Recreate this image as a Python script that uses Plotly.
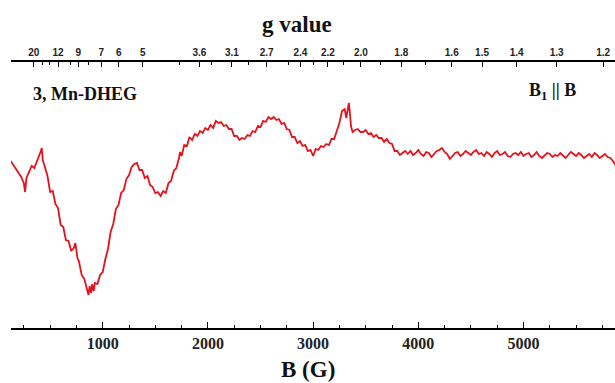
import plotly.graph_objects as go

# ---- data ----
field_G = [125, 150, 175, 200, 225, 250, 262, 275, 300, 325, 350, 375, 400, 412, 420, 430, 450, 475,
           500, 525, 550, 575, 600, 625, 650, 675, 700, 725, 740, 760, 775, 800, 825, 850, 865, 875,
           890, 900, 915, 925, 950, 975, 1000, 1025, 1050, 1075, 1100, 1125, 1150, 1175, 1200, 1225,
           1250, 1275, 1300, 1325, 1350, 1375, 1400, 1425, 1450, 1475, 1500, 1525, 1550, 1575, 1600,
           1625, 1650, 1675, 1700, 1725, 1735, 1750, 1775, 1800, 1825, 1850, 1875, 1900, 1925, 1950,
           1975, 2000, 2025, 2050, 2075, 2100, 2125, 2150, 2175, 2200, 2225, 2250, 2275, 2300, 2325,
           2350, 2375, 2400, 2425, 2450, 2475, 2500, 2525, 2550, 2575, 2600, 2625, 2650, 2675, 2700,
           2725, 2750, 2775, 2800, 2825, 2850, 2875, 2900, 2925, 2950, 2975, 3000, 3025, 3050, 3075,
           3100, 3125, 3150, 3175, 3200, 3225, 3250, 3275, 3300, 3315, 3330, 3340, 3350, 3360, 3375,
           3400, 3425, 3450, 3475, 3500, 3525, 3550, 3575, 3600, 3625, 3650, 3675, 3700, 3725, 3750,
           3775, 3800, 3825, 3850, 3875, 3900, 3925, 3950, 3975, 4000, 4025, 4050, 4075, 4100, 4125,
           4150, 4175, 4200, 4225, 4250, 4275, 4300, 4325, 4350, 4375, 4400, 4425, 4450, 4475, 4500,
           4525, 4550, 4575, 4600, 4625, 4650, 4675, 4700, 4725, 4750, 4775, 4800, 4825, 4850, 4875,
           4900, 4925, 4950, 4975, 5000, 5025, 5050, 5075, 5100, 5125, 5150, 5175, 5200, 5225, 5250,
           5275, 5300, 5325, 5350, 5375, 5400, 5425, 5450, 5475, 5500, 5525, 5550, 5575, 5600, 5625,
           5650, 5675, 5700, 5725, 5750, 5775, 5800, 5825, 5850, 5875]

signal_au = [167, 163, 160, 155, 151, 145, 136, 150, 157, 162, 160, 167, 172, 177, 180, 168, 161, 152,
             136, 137, 124, 120, 103, 101, 88, 87, 77, 80, 85, 70, 66, 53, 49, 39, 33, 42,
             35, 44, 37, 45, 44, 53, 56, 69, 79, 96, 104, 119, 123, 135, 138, 149,
             153, 161, 164, 165, 158, 158, 150, 152, 143, 141, 135, 136, 132, 137, 135,
             145, 147, 157, 160, 170, 176, 172, 183, 182, 191, 188, 194, 192, 197, 195,
             200, 198, 203, 200, 207, 205, 206, 202, 203, 199, 199, 192, 192, 188, 190,
             189, 193, 192, 197, 196, 202, 201, 207, 206, 211, 209, 211, 208, 209, 204,
             205, 199, 198, 191, 191, 185, 187, 182, 183, 177, 178, 172, 179, 178, 182,
             181, 184, 183, 189, 189, 197, 205, 217, 219, 210, 221, 225, 215, 202, 196,
             198, 199, 196, 196, 198, 194, 195, 191, 193, 190, 190, 186, 189, 185, 184,
             177, 177, 173, 175, 177, 174, 177, 173, 175, 178, 174, 172, 176, 175, 171,
             174, 177, 178, 180, 176, 174, 169, 172, 175, 176, 172, 174, 177, 175, 173,
             176, 178, 174, 175, 172, 176, 174, 171, 175, 177, 173, 174, 176, 172, 171,
             174, 175, 173, 176, 172, 174, 175, 171, 173, 176, 172, 170, 173, 175, 174,
             171, 173, 172, 175, 172, 170, 173, 176, 174, 172, 175, 173, 170, 172, 174,
             171, 175, 173, 170, 172, 174, 171, 170, 167, 163]

g_labels = [20, 12, 9, 7, 6, 5, 3.6, 3.1, 2.7, 2.4, 2.2, 2.0, 1.8, 1.6, 1.5, 1.4, 1.3, 1.2]
g_label_text = ["20", "12", "9", "7", "6", "5", "3.6", "3.1", "2.7", "2.4", "2.2", "2.0",
                "1.8", "1.6", "1.5", "1.4", "1.3", "1.2"]
g_minor = [16, 14, 10, 8, 4, 3.4, 2.9, 2.5, 2.3, 2.1, 1.9, 1.7]
freq_GHz = 9.67          # microwave frequency: B(G) = 714.48 * nu(GHz) / g
b_ticks = [1000, 2000, 3000, 4000, 5000]

hnu_over_mu = 714.48 * freq_GHz
g_tickvals = [hnu_over_mu / g for g in g_labels]
g_minorvals = [hnu_over_mu / g for g in g_minor]

xr = [128, 5870]
red = "rgb(228,18,28)"
serif = "Liberation Serif"

fig = go.Figure()
fig.add_trace(go.Scatter(x=field_G, y=signal_au, mode="lines",
                         line=dict(color=red, width=1.8), hoverinfo="skip", showlegend=False))
fig.add_trace(go.Scatter(x=field_G, y=signal_au, mode="lines", xaxis="x2",
                         line=dict(color=red, width=0), opacity=0, hoverinfo="skip", showlegend=False))

fig.update_layout(
    width=615, height=383,
    margin=dict(l=11, r=0, t=62, b=55),
    paper_bgcolor="white", plot_bgcolor="white",
    xaxis=dict(range=xr, showgrid=False, zeroline=False, showline=True, linecolor="black",
               linewidth=1.5, ticks="inside", ticklen=6, tickwidth=1, tickcolor="black",
               tickvals=b_ticks, ticktext=[str(v) for v in b_ticks],
               tickfont=dict(family=serif, size=16, color="#222", weight="bold"),
               minor=dict(dtick=250, tick0=0, ticks="inside", ticklen=3, tickcolor="black", tickwidth=1),
               mirror=False),
    xaxis2=dict(range=xr, overlaying="x", side="top", anchor="y", showgrid=False, zeroline=False,
                showline=True, linecolor="black", linewidth=1.5, ticks="inside", ticklen=5,
                tickwidth=1, tickcolor="black", tickmode="array", tickvals=g_tickvals,
                ticktext=g_label_text,
                tickfont=dict(family="Liberation Sans", size=10, color="#222", weight="bold"),
                minor=dict(tickmode="array", tickvals=g_minorvals, ticks="inside", ticklen=3,
                           tickcolor="black", tickwidth=1)),
    yaxis=dict(range=[0, 266], visible=False, showgrid=False, zeroline=False),
    annotations=[
        dict(text="g value", xref="paper", yref="paper", x=(297 - 11) / 604, y=(328 - 24) / 266,
             xanchor="center", yanchor="middle", showarrow=False,
             font=dict(family=serif, size=23, color="#111", weight="bold")),
        dict(text="B (G)", xref="paper", yref="paper", x=(308 - 11) / 604, y=(328 - 369) / 266,
             xanchor="center", yanchor="middle", showarrow=False,
             font=dict(family=serif, size=23, color="#111", weight="bold")),
        dict(text="3, Mn-DHEG", xref="paper", yref="paper", x=(31 - 11) / 604, y=(328 - 94) / 266,
             xanchor="left", yanchor="middle", showarrow=False,
             font=dict(family=serif, size=18, color="#111", weight="bold")),
        dict(text="B<sub>1</sub> || B", xref="paper", yref="paper", x=(527 - 11) / 604,
             y=(328 - 91) / 266, xanchor="left", yanchor="middle", showarrow=False,
             font=dict(family=serif, size=18, color="#111", weight="bold")),
    ],
)

fig.write_html("out.html")
